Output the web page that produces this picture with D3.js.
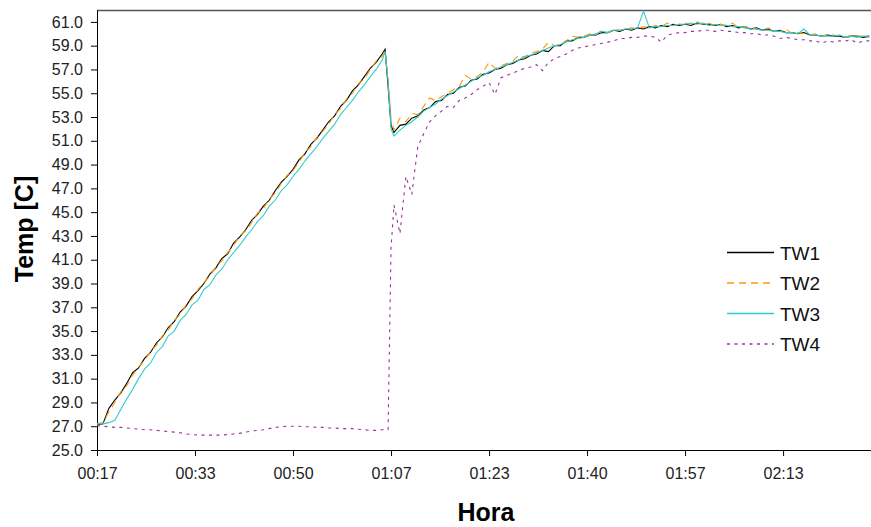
<!DOCTYPE html>
<html>
<head>
<meta charset="utf-8">
<script src="https://cdn.jsdelivr.net/npm/d3@7"></script>
<style>
  body { margin: 0; background: #fff; }
  #chart { width: 871px; height: 527px; }
  text { font-family: "Liberation Sans", Arial, sans-serif; }
</style>
</head>
<body>
<div id="chart"></div>
<script>
// minutes since the start of the record (first tick = 00:17)
const minutes = [
  0, 1, 2, 3, 4, 5, 6, 7, 8, 9,
  10, 11, 12, 13, 14, 15, 16, 17, 18, 19,
  20, 21, 22, 23, 24, 25, 26, 27, 28, 29,
  30, 31, 32, 33, 34, 35, 36, 37, 38, 39,
  40, 41, 42, 43, 44, 45, 46, 47, 48, 48.5,
  49, 49.5, 50, 51, 52, 53, 54, 55, 56, 57,
  58, 59, 60, 61, 62, 63, 64, 65, 66, 67,
  68, 69, 70, 71, 72, 73, 74, 75, 76, 77,
  78, 79, 80, 81, 82, 83, 84, 85, 86, 87,
  88, 89, 90, 91, 92, 93, 94, 95, 96, 97,
  98, 99, 100, 101, 102, 103, 104, 105, 106, 107,
  108, 109, 110, 111, 112, 113, 114, 115, 116, 117,
  118, 119, 120, 121, 122, 123, 124, 125, 126, 127,
  128, 129, 130
]

const tw1 = [
  27.1, 27.2, 28.5, 29.2, 29.8, 30.6, 31.5, 31.9, 32.7, 33.2,
  34.0, 34.5, 35.3, 35.8, 36.6, 37.1, 37.9, 38.4, 39.0, 39.8,
  40.3, 41.1, 41.5, 42.4, 42.9, 43.5, 44.3, 44.8, 45.5, 46.0,
  46.8, 47.5, 48.0, 48.6, 49.4, 49.9, 50.7, 51.2, 51.9, 52.6,
  53.1, 53.9, 54.4, 55.2, 55.7, 56.4, 57.1, 57.6, 58.3, 58.7,
  55.6, 52.3, 51.7, 52.3, 52.4, 52.9, 53.1, 53.6, 53.8, 54.3,
  54.4, 54.9, 55.0, 55.5, 55.6, 56.1, 56.2, 56.6, 56.7, 57.0,
  57.1, 57.4, 57.5, 57.8, 57.9, 58.2, 58.3, 58.6, 58.5, 59.0,
  59.0, 59.4, 59.4, 59.7, 59.7, 59.9, 59.9, 60.1, 60.1, 60.3,
  60.2, 60.4, 60.3, 60.5, 60.4, 60.6, 60.5, 60.7, 60.6, 60.8,
  60.7, 60.8, 60.7, 60.9, 60.8, 60.8, 60.7, 60.8, 60.6, 60.7,
  60.5, 60.6, 60.4, 60.5, 60.3, 60.4, 60.2, 60.3, 60.1, 60.1,
  60.0, 60.1, 59.9, 59.9, 59.8, 59.9, 59.8, 59.8, 59.7, 59.8,
  59.8, 59.7, 59.8
]

const tw2 = [
  27.2, 27.3, 28.2, 29.0, 29.9, 30.4, 31.3, 32.0, 32.5, 33.3,
  33.8, 34.6, 35.1, 35.9, 36.4, 37.2, 37.7, 38.5, 39.1, 39.6,
  40.4, 40.9, 41.6, 42.2, 43.0, 43.4, 44.1, 44.9, 45.3, 46.1,
  46.6, 47.4, 48.1, 48.5, 49.2, 50.0, 50.5, 51.3, 51.8, 52.4,
  53.2, 53.7, 54.5, 55.0, 55.8, 56.2, 57.0, 57.7, 58.1, 58.6,
  56.4, 52.8, 51.9, 52.9, 52.6, 53.3, 53.2, 53.9, 54.6, 54.4,
  54.7, 55.0, 55.3, 55.6, 56.5, 56.2, 56.4, 56.8, 57.6, 57.1,
  57.3, 57.5, 57.7, 58.2, 58.0, 58.4, 58.5, 58.7, 59.3, 59.0,
  59.1, 59.4, 59.8, 59.7, 59.8, 60.0, 59.9, 60.3, 60.1, 60.4,
  60.3, 60.4, 60.5, 60.4, 60.6, 60.5, 60.7, 60.6, 60.9, 60.7,
  60.8, 60.9, 60.8, 61.0, 60.8, 60.9, 60.7, 60.8, 60.7, 60.9,
  60.5, 60.6, 60.5, 60.4, 60.3, 60.5, 60.2, 60.2, 60.4, 60.0,
  60.1, 60.0, 59.9, 60.0, 59.8, 59.9, 59.9, 59.8, 59.7, 59.9,
  59.8, 59.8, 59.7
]

const tw3 = [
  27.2, 27.2, 27.3, 27.5, 28.4, 29.3, 30.1, 31.0, 31.8, 32.3,
  33.2, 33.7, 34.6, 35.0, 35.9, 36.4, 37.2, 37.6, 38.5, 38.9,
  39.7, 40.2, 41.0, 41.6, 42.2, 42.9, 43.5, 44.2, 44.7, 45.5,
  46.0, 46.8, 47.3, 48.0, 48.6, 49.3, 49.9, 50.5, 51.2, 51.8,
  52.4, 53.2, 53.8, 54.4, 55.1, 55.7, 56.4, 57.0, 57.8, 58.5,
  56.0, 52.0, 51.4, 51.9, 52.3, 52.6, 53.0, 53.5, 53.8, 54.1,
  54.5, 54.8, 55.1, 55.4, 55.7, 56.0, 56.3, 56.5, 56.8, 57.0,
  57.2, 57.4, 57.6, 57.8, 58.1, 58.2, 58.4, 58.6, 58.8, 59.0,
  59.1, 59.3, 59.5, 59.6, 59.7, 59.9, 60.0, 60.2, 60.1, 60.3,
  60.3, 60.4, 60.4, 60.5, 61.9, 60.5, 60.6, 60.6, 60.7, 60.7,
  60.8, 60.8, 60.9, 60.8, 60.9, 60.7, 60.8, 60.7, 60.7, 60.6,
  60.6, 60.5, 60.4, 60.4, 60.3, 60.3, 60.2, 60.2, 60.1, 60.1,
  60.0, 60.4, 59.9, 59.9, 59.8, 59.8, 59.8, 59.9, 59.7, 59.8,
  59.7, 59.8, 59.8
]

const tw4 = [
  27.05, 27.0, 26.95, 26.9, 26.9, 26.85, 26.8, 26.75, 26.7, 26.7,
  26.65, 26.6, 26.55, 26.5, 26.45, 26.35, 26.3, 26.25, 26.25, 26.25,
  26.25, 26.25, 26.3, 26.35, 26.4, 26.5, 26.6, 26.65, 26.7, 26.8,
  26.9, 26.95, 27.0, 27.0, 27.0, 26.95, 26.95, 26.9, 26.9, 26.85,
  26.85, 26.8, 26.8, 26.8, 26.75, 26.7, 26.65, 26.65, 26.7, 26.7,
  26.7, 42.0, 45.6, 43.2, 48.0, 46.5, 50.5, 51.6, 52.6, 53.1,
  53.5, 53.9, 53.8, 54.4, 54.6, 54.9, 55.3, 55.6, 55.9, 54.9,
  56.3, 56.5, 56.7, 56.9, 57.1, 57.2, 57.4, 56.9, 57.6, 57.9,
  58.1, 58.3, 58.6, 58.8, 58.9, 59.0, 59.1, 59.2, 59.3, 59.4,
  59.6, 59.6, 59.7, 59.7, 59.8, 59.8, 59.7, 59.3, 59.9, 60.0,
  60.1, 60.1, 60.2, 60.2, 60.3, 60.3, 60.2, 60.3, 60.2, 60.2,
  60.1, 60.1, 60.0, 60.0, 59.9, 59.9, 59.8, 59.6, 59.7, 59.6,
  59.5, 59.5, 59.4, 59.4, 59.2, 59.4, 59.3, 59.4, 59.4, 59.5,
  59.2, 59.4, 59.4
]

const seriesNames = ["TW1", "TW2", "TW3", "TW4"]
const tickMinutes = [0, 16.5, 33, 49.5, 66, 82.5, 99, 115.5]
const tickLabels = ["00:17", "00:33", "00:50", "01:07", "01:23", "01:40", "01:57", "02:13"]
const yTicks = [25, 27, 29, 31, 33, 35, 37, 39, 41, 43, 45, 47, 49, 51, 53, 55, 57, 59, 61]

// set the dimensions and margins of the graph
const margins = { top: 10, right: 0, bottom: 77, left: 97 }
const anchoT = 871
const altoT = 527
const anc = anchoT - margins.left - margins.right
const alt = altoT - margins.top - margins.bottom

const estilos = [
  { color: "#000000", dash: null },
  { color: "#FF9900", dash: "7,5" },
  { color: "#33CCCC", dash: null },
  { color: "#993399", dash: "3,4.5" }
]

var svg = d3.select("#chart")
  .append("svg")
  .attr("width", anchoT)
  .attr("height", altoT)
  .append("g")
  .attr("transform", "translate(" + margins.left + "," + margins.top + ")")

var x = d3.scaleLinear()
  .domain([0, 130.3])
  .range([0, anc])

var y = d3.scaleLinear()
  .domain([25, 62])
  .range([alt, 0])

// plot area top border
svg.append("line")
  .attr("x1", 0).attr("x2", anc)
  .attr("y1", 0.5).attr("y2", 0.5)
  .attr("stroke", "#555")
  .attr("stroke-width", 1.5)

// axes
var ejeY = svg.append("g")
  .call(d3.axisLeft(y)
    .tickValues(yTicks)
    .tickFormat(d3.format(".1f"))
    .tickSize(6)
    .tickSizeOuter(0)
    .tickPadding(8))
ejeY.attr("font-size", 16).attr("font-family", null)
ejeY.selectAll("text").attr("fill", "#222")

var ejeX = svg.append("g")
  .attr("transform", "translate(0," + alt + ")")
  .call(d3.axisBottom(x)
    .tickValues(tickMinutes)
    .tickFormat((d, i) => tickLabels[i])
    .tickSize(6)
    .tickSizeOuter(0)
    .tickPadding(12))
ejeX.attr("font-size", 16).attr("font-family", null)
ejeX.selectAll("text").attr("fill", "#222")

svg.selectAll(".domain, .tick line").attr("stroke", "#000")

// the lines
const series = [tw1, tw2, tw3, tw4]
const linea = d3.line()
  .x((d, i) => x(minutes[i]))
  .y(d => y(d))

series.forEach((valores, k) => {
  svg.append("path")
    .datum(valores)
    .attr("fill", "none")
    .attr("stroke", estilos[k].color)
    .attr("stroke-width", 1.1)
    .attr("stroke-dasharray", estilos[k].dash)
    .attr("d", linea)
})

// legend
var leyenda = svg.append("g")
  .attr("transform", "translate(" + (727 - margins.left) + "," + (252.5 - margins.top) + ")")

seriesNames.forEach((nombre, k) => {
  var fila = leyenda.append("g").attr("transform", "translate(0," + (k * 30.5) + ")")
  fila.append("line")
    .attr("x1", 0).attr("x2", 47)
    .attr("y1", 0).attr("y2", 0)
    .attr("stroke", estilos[k].color)
    .attr("stroke-width", 1.5)
    .attr("stroke-dasharray", estilos[k].dash)
  fila.append("text")
    .attr("x", 53)
    .attr("y", 7)
    .attr("font-size", 19)
    .attr("fill", "#111")
    .text(nombre)
})

// titles
svg.append("text")
  .attr("x", 486 - margins.left)
  .attr("y", 521 - margins.top)
  .attr("text-anchor", "middle")
  .attr("font-size", 25)
  .attr("font-weight", "bold")
  .text("Hora")

svg.append("text")
  .attr("transform", "translate(" + (33 - margins.left) + "," + (229 - margins.top) + ") rotate(-90)")
  .attr("text-anchor", "middle")
  .attr("font-size", 25)
  .attr("font-weight", "bold")
  .text("Temp [C]")
</script>
</body>
</html>
